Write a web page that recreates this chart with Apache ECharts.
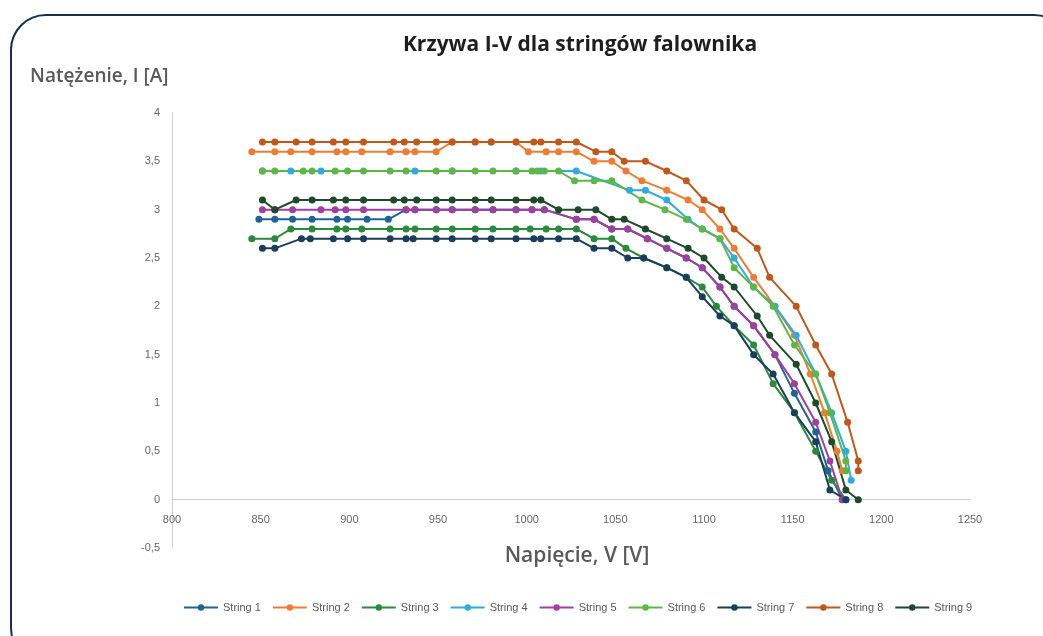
<!DOCTYPE html>
<html>
<head>
<meta charset="utf-8">
<script src="https://cdn.jsdelivr.net/npm/echarts@6/dist/echarts.min.js"></script>
<style>
  html, body { margin: 0; padding: 0; background: #fff; overflow: hidden; }
  #frame {
    position: absolute; left: 10px; top: 14px; width: 1060px; height: 650px;
    border: 2.5px solid #14304f; border-radius: 36px; box-sizing: border-box;
  }
  #chart { position: absolute; left: 0; top: 0; width: 1043px; height: 636px; }
</style>
</head>
<body>
<div id="frame"></div>
<div id="chart"></div>
<script>
// punkty [napięcie V, natężenie A]
const string1 = [[849,2.9],[858,2.9],[868,2.9],[879,2.9],[893,2.9],[899,2.9],[910,2.9],[922,2.9],[932,3.0],[937,3.0],[949,3.0],[958,3.0],[971,3.0],[981,3.0],[994,3.0],[1003,3.0],[1010,3.0],[1028,2.9],[1038,2.9],[1048,2.8],[1057,2.8],[1068,2.7],[1079,2.6],[1090,2.5],[1099,2.4],[1109,2.2],[1117,2.0],[1128,1.8],[1140,1.5],[1151,1.1],[1163,0.7],[1170,0.3],[1178,0]];
const string2 = [[845,3.6],[858,3.6],[867,3.6],[879,3.6],[893,3.6],[898,3.6],[907,3.6],[923,3.6],[932,3.6],[937,3.6],[949,3.6],[958,3.7],[971,3.7],[980,3.7],[994,3.7],[1001,3.6],[1011,3.6],[1018,3.6],[1028,3.6],[1038,3.5],[1048,3.5],[1056,3.4],[1065,3.3],[1079,3.2],[1091,3.1],[1099,3.0],[1109,2.8],[1117,2.6],[1128,2.3],[1140,2.0],[1151,1.7],[1160,1.3],[1168,0.9],[1175,0.5],[1178,0.3]];
const string3 = [[845,2.7],[858,2.7],[867,2.8],[879,2.8],[893,2.8],[898,2.8],[907,2.8],[923,2.8],[932,2.8],[937,2.8],[949,2.8],[958,2.8],[971,2.8],[981,2.8],[994,2.8],[1002,2.8],[1011,2.8],[1018,2.8],[1028,2.8],[1038,2.7],[1048,2.7],[1056,2.6],[1066,2.5],[1079,2.4],[1090,2.3],[1099,2.2],[1107,2.0],[1117,1.8],[1128,1.6],[1139,1.2],[1151,0.9],[1163,0.5],[1172,0.2],[1180,0]];
const string4 = [[851,3.4],[867,3.4],[884,3.4],[937,3.4],[958,3.4],[994,3.4],[1008,3.4],[1028,3.4],[1058,3.2],[1067,3.2],[1079,3.1],[1091,2.9],[1099,2.8],[1109,2.7],[1117,2.5],[1128,2.2],[1140,2.0],[1152,1.7],[1163,1.3],[1172,0.9],[1180,0.5],[1183,0.2]];
const string5 = [[851,3.0],[858,3.0],[868,3.0],[884,3.0],[892,3.0],[898,3.0],[908,3.0],[932,3.0],[937,3.0],[949,3.0],[958,3.0],[971,3.0],[981,3.0],[994,3.0],[1003,3.0],[1010,3.0],[1028,2.9],[1038,2.9],[1048,2.8],[1057,2.8],[1068,2.7],[1079,2.6],[1090,2.5],[1099,2.4],[1109,2.2],[1117,2.0],[1128,1.8],[1140,1.5],[1151,1.2],[1163,0.8],[1171,0.4],[1178,0]];
const string6 = [[851,3.4],[858,3.4],[874,3.4],[879,3.4],[892,3.4],[899,3.4],[908,3.4],[923,3.4],[932,3.4],[949,3.4],[958,3.4],[971,3.4],[981,3.4],[994,3.4],[1003,3.4],[1006,3.4],[1010,3.4],[1018,3.4],[1027,3.3],[1038,3.3],[1048,3.3],[1065,3.1],[1078,3.0],[1090,2.9],[1099,2.8],[1109,2.7],[1117,2.4],[1128,2.2],[1139,2.0],[1151,1.6],[1163,1.3],[1171,0.9],[1180,0.4],[1180,0.3]];
const string7 = [[851,2.6],[858,2.6],[873,2.7],[878,2.7],[891,2.7],[899,2.7],[908,2.7],[923,2.7],[932,2.7],[936,2.7],[949,2.7],[958,2.7],[971,2.7],[980,2.7],[994,2.7],[1004,2.7],[1008,2.7],[1018,2.7],[1028,2.7],[1038,2.6],[1048,2.6],[1057,2.5],[1066,2.5],[1079,2.4],[1090,2.3],[1099,2.1],[1109,1.9],[1117,1.8],[1128,1.5],[1139,1.3],[1151,0.9],[1163,0.6],[1171,0.1],[1180,0]];
const string8 = [[851,3.7],[858,3.7],[870,3.7],[879,3.7],[891,3.7],[898,3.7],[908,3.7],[925,3.7],[931,3.7],[938,3.7],[949,3.7],[958,3.7],[971,3.7],[980,3.7],[994,3.7],[1004,3.7],[1008,3.7],[1018,3.7],[1028,3.7],[1039,3.6],[1048,3.6],[1055,3.5],[1067,3.5],[1079,3.4],[1090,3.3],[1100,3.1],[1110,3.0],[1117,2.8],[1130,2.6],[1137,2.3],[1152,2.0],[1163,1.6],[1172,1.3],[1181,0.8],[1187,0.4],[1187,0.3]];
const string9 = [[851,3.1],[858,3.0],[870,3.1],[879,3.1],[891,3.1],[898,3.1],[908,3.1],[925,3.1],[931,3.1],[938,3.1],[949,3.1],[958,3.1],[971,3.1],[980,3.1],[994,3.1],[1004,3.1],[1008,3.1],[1018,3.0],[1029,3.0],[1039,3.0],[1048,2.9],[1055,2.9],[1067,2.8],[1079,2.7],[1091,2.6],[1100,2.5],[1110,2.3],[1117,2.2],[1130,1.9],[1137,1.7],[1152,1.4],[1163,1.0],[1172,0.6],[1180,0.1],[1187,0]];

const names = ["String 1", "String 2", "String 3", "String 4", "String 5", "String 6", "String 7", "String 8", "String 9"];
const colors = ["#1f6496", "#ee7d32", "#2a8a3c", "#2eabe0", "#a23ea2", "#5cb746", "#1a3d5c", "#c0581a", "#1c4a2a"];
const allData = [string1, string2, string3, string4, string5, string6, string7, string8, string9];

const xTicks = [800, 1250, 50];   // min, max, krok
const yTicks = [-0.5, 4, 0.5];

var myChart = echarts.init(document.getElementById("chart"));
var series = names.map(function (n, k) {
  return {
    name: n,
    type: "line",
    data: allData[k],
    symbol: "circle",
    symbolSize: 7,
    lineStyle: { width: 2 },
    emphasis: { disabled: true },
  };
});

var options = {
  animation: false,
  color: colors,
  textStyle: { fontFamily: "Open Sans" },
  grid: { left: 172, right: 73, top: 113, bottom: 88 },
  graphic: [
    {
      type: "text", x: 580, y: 35,
      style: { text: "Krzywa I-V dla stringów falownika", font: "bold 21px 'Open Sans'", fill: "#1e1e1e", textAlign: "center" },
    },
    {
      type: "text", x: 30, y: 67,
      style: { text: "Natężenie, I [A]", font: "600 19px 'Open Sans'", fill: "#595959" },
    },
    {
      type: "text", x: 577, y: 546,
      style: { text: "Napięcie, V [V]", font: "600 21px 'Open Sans'", fill: "#595959", textAlign: "center" },
    },
  ],
  legend: {
    left: 178, top: 597,
    itemWidth: 34, itemHeight: 8, itemGap: 11,
    textStyle: { color: "#595959", fontSize: 11, fontFamily: "Liberation Sans" },
    data: names,
  },
  xAxis: {
    type: "value",
    min: xTicks[0], max: xTicks[1], interval: xTicks[2],
    axisLine: { onZero: true, lineStyle: { color: "#cccccc" } },
    axisTick: { show: false },
    splitLine: { show: false },
    axisLabel: {
      color: "#666", fontSize: 11, margin: -34, fontFamily: "Liberation Sans",
      formatter: function (v) { return String(v); },
    },
  },
  yAxis: {
    type: "value",
    min: yTicks[0], max: yTicks[1], interval: yTicks[2],
    axisLine: { show: true, onZero: false, lineStyle: { color: "#cccccc" } },
    axisTick: { show: false },
    splitLine: { show: false },
    axisLabel: {
      color: "#666", fontSize: 11, margin: 12, fontFamily: "Liberation Sans",
      formatter: function (v) { return String(v).replace(".", ","); },
    },
  },
  series: series,
};
myChart.setOption(options);
</script>
</body>
</html>
